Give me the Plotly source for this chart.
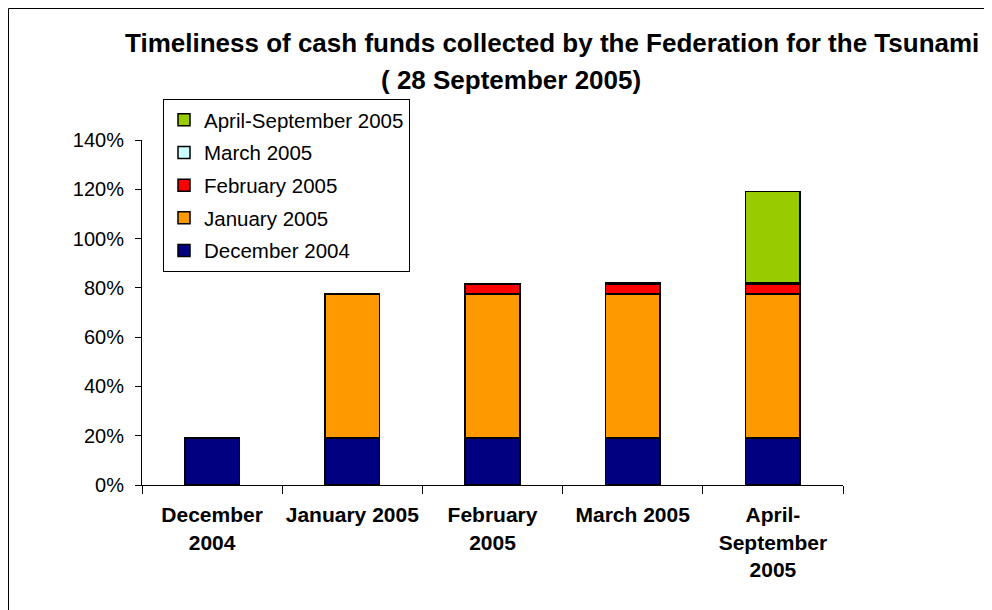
import plotly.graph_objects as go

categories = ["December 2004", "January 2005", "February 2005", "March 2005", "April-September 2005"]
tick_labels = ["December<br>2004", "January 2005", "February<br>2005", "March 2005", "April-<br>September<br>2005"]

series_names = ["December 2004", "January 2005", "February 2005", "March 2005", "April-September 2005"]
dec_2004 = [0.19, 0.19, 0.19, 0.19, 0.19]
jan_2005 = [0, 0.585, 0.585, 0.585, 0.585]
feb_2005 = [0, 0, 0.04, 0.04, 0.04]
mar_2005 = [0, 0, 0, 0.007, 0.007]
apr_sep_2005 = [0, 0, 0, 0, 0.37]
series_values = [dec_2004, jan_2005, feb_2005, mar_2005, apr_sep_2005]
colors = ["#000080", "#FF9900", "#FF0000", "#CCFFFF", "#99CC00"]

FONT = "Liberation Sans, Arial, sans-serif"

# page offset (browser body margin)
OFF = 8
W, H = 984, 602
L, T = 142 - OFF, 140 - OFF
pw, ph = 701, 345
R = W - L - pw
B = H - T - ph

def px_x(page_px):
    return (page_px - OFF - L) / pw

def px_y(page_py):
    return (T + ph - (page_py - OFF)) / ph

fig = go.Figure()
for i, (name, vals, col) in enumerate(zip(series_names, series_values, colors)):
    fig.add_trace(go.Bar(
        x=categories, y=vals, name=name, legendgroup=name, legendrank=1000 - i,
        marker=dict(color=col, line=dict(color="black", width=1.5)),
        hoverinfo="skip",
    ))

fig.update_layout(
    width=W, height=H,
    margin=dict(l=L, r=R, t=T, b=B, pad=0, autoexpand=False),
    barmode="stack", bargap=0.61,
    plot_bgcolor="white", paper_bgcolor="white",
    font=dict(family=FONT, size=20, color="black"),
    showlegend=True,
    legend=dict(
        x=px_x(163), y=px_y(99), xanchor="left", yanchor="top",
        traceorder="grouped", tracegroupgap=3,
        bordercolor="black", borderwidth=1, bgcolor="white",
        font=dict(family=FONT, size=20.5),
        itemwidth=30,
    ),
    xaxis=dict(
        tickmode="array", tickvals=categories, ticktext=tick_labels,
        tickfont=dict(family=FONT, size=21, weight="bold"), tickangle=0,
        tickson="boundaries", ticks="outside", ticklen=8, tickcolor="black",
        showline=True, linecolor="black", linewidth=1, showgrid=False,
        zeroline=False, ticklabelstandoff=11, automargin=False,
    ),
    yaxis=dict(
        range=[0, 1.4], dtick=0.2, tickformat=".0%",
        ticks="outside", ticklen=6, tickcolor="black",
        showline=True, linecolor="black", linewidth=1, showgrid=False,
        zeroline=False, tickfont=dict(family=FONT, size=20),
        ticklabelstandoff=7, automargin=False,
    ),
)

fig.add_annotation(
    text="<b>Timeliness of cash funds collected by the Federation for the Tsunami</b>",
    xref="paper", yref="paper", x=px_x(552), y=px_y(43),
    xanchor="center", yanchor="middle", showarrow=False,
    font=dict(family=FONT, size=26, color="black"),
)
fig.add_annotation(
    text="<b>( 28 September 2005)</b>",
    xref="paper", yref="paper", x=px_x(379), y=px_y(80),
    xanchor="left", yanchor="middle", showarrow=False,
    font=dict(family=FONT, size=26, color="black"),
)

fig.add_shape(
    type="rect", xref="paper", yref="paper",
    x0=px_x(8.5), x1=px_x(1010),
    y0=px_y(640), y1=px_y(8.5),
    line=dict(color="black", width=1), fillcolor="rgba(0,0,0,0)", layer="below",
)

fig.write_html("out.html")
